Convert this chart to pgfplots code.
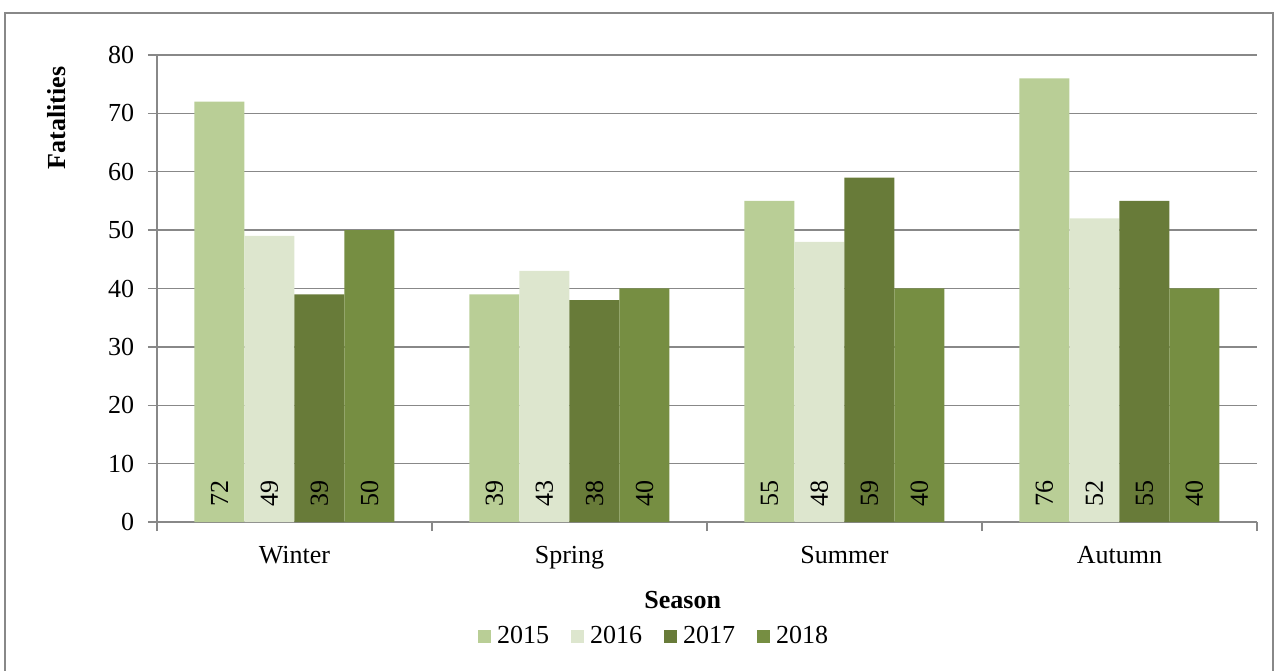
\documentclass[border=0pt]{standalone}
\usepackage{pgfplots}
\pgfplotsset{compat=1.18}
\usepackage{fontspec}
\setmainfont{Liberation Serif}
\definecolor{cA}{RGB}{185,206,150}
\definecolor{cB}{RGB}{221,230,206}
\definecolor{cC}{RGB}{104,123,57}
\definecolor{cD}{RGB}{118,142,66}
\definecolor{gridc}{RGB}{136,136,136}
\begin{document}
\fontsize{26bp}{30bp}\selectfont
\begin{tikzpicture}
\begin{axis}[
  name=ax,
  scale only axis,
  width=1100bp, height=467bp,
  xmin=-0.5, xmax=3.5,
  ymin=0, ymax=80,
  ytick={0,10,...,80},
  xtick={0,1,2,3},
  xticklabels={Winter,Spring,Summer,Autumn},
  minor xtick={-0.5,0.5,1.5,2.5,3.5},
  major x tick style={draw=none},
  tick align=outside,
  major tick length=9bp,
  minor tick length=9bp,
  axis x line*=bottom,
  axis y line*=left,
  axis line style={gridc, line width=1.5bp, -},
  every tick/.style={gridc, line width=1.5bp},
  ymajorgrids,
  grid style={gridc, line width=1.5bp},
  ybar=0pt,
  bar width=50bp,
  tick label style={font=\fontsize{26bp}{30bp}\selectfont},
  yticklabel style={xshift=-5bp},
  xticklabel style={yshift=-6bp},
  /pgf/number format/assume math mode=true,
  xlabel={\textbf{Season}},
  xlabel style={at={(axis description cs:0.478,-0.167)}, anchor=center, font=\fontsize{26bp}{30bp}\selectfont},
  ylabel={\textbf{Fatalities}},
  ylabel style={at={(axis description cs:-0.091,0.865)}, anchor=center, rotate=0, font=\fontsize{26bp}{30bp}\selectfont},
  legend columns=4,
  legend style={draw=none, at={(axis description cs:0.452,-0.246)}, anchor=center,
    font=\fontsize{26bp}{30bp}\selectfont,
    /tikz/every odd column/.append style={column sep=4bp},
    /tikz/every even column/.append style={column sep=20bp}},
  legend image code/.code={\fill[#1,draw=none] (0bp,-6.5bp) rectangle (13bp,6.5bp);},
  nodes near coords,
  visualization depends on={y \as \rawy},
  every node near coord/.append style={
    shift={(axis direction cs:0,2.55-\rawy)},
    rotate=90, anchor=west, inner sep=0pt,
    font=\fontsize{26bp}{30bp}\selectfont, text=black},
  clip=false,
]
\addplot[fill=cA, draw=none] coordinates {(0,72) (1,39) (2,55) (3,76)};
\addplot[fill=cB, draw=none] coordinates {(0,49) (1,43) (2,48) (3,52)};
\addplot[fill=cC, draw=none] coordinates {(0,39) (1,38) (2,59) (3,55)};
\addplot[fill=cD, draw=none] coordinates {(0,50) (1,40) (2,40) (3,40)};
\legend{2015,2016,2017,2018}
\end{axis}
\path[use as bounding box] (-157bp,-149bp) rectangle (1117bp,522bp);
\draw[gridc, line width=1.5bp] (-152bp,-150bp) -- (-152bp,509bp) -- (1116.2bp,509bp) -- (1116.2bp,-150bp);
\end{tikzpicture}
\end{document}
